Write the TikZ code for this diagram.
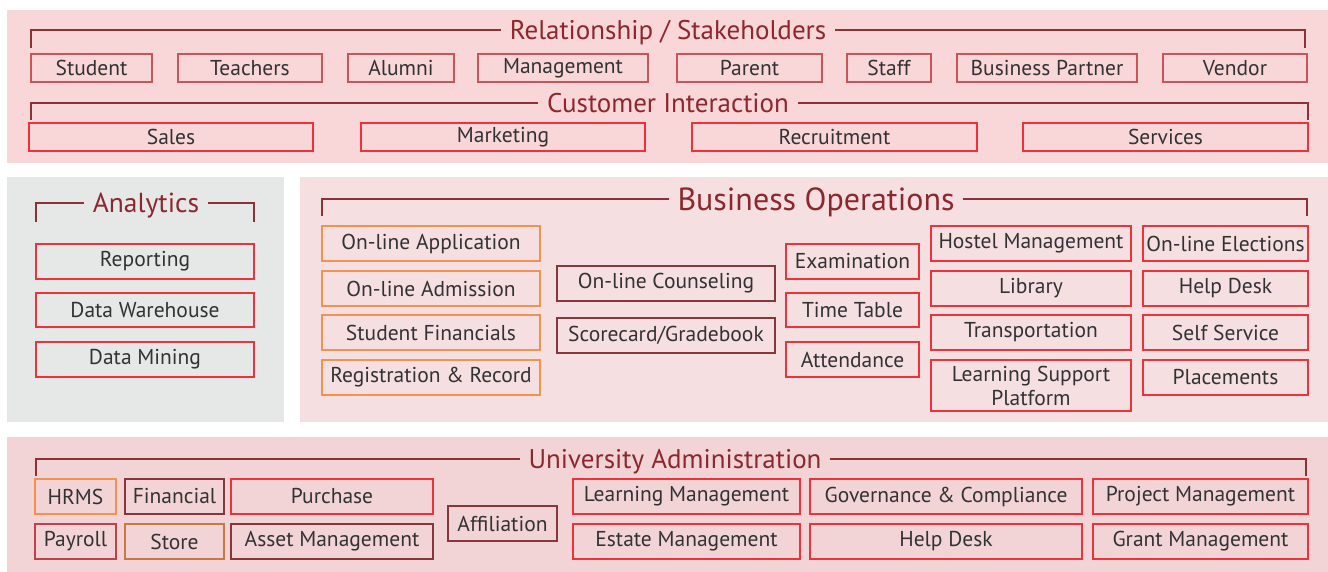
\documentclass[tikz,border=0pt]{standalone}
\usepackage{fontspec}
\setmainfont{PT Sans}
\definecolor{toppink}{RGB}{249,214,215}
\definecolor{bizpink}{RGB}{245,223,225}
\definecolor{anagray}{RGB}{230,231,231}
\definecolor{botpink}{RGB}{243,212,214}
\definecolor{titlered}{RGB}{140,40,45}
\definecolor{bracketred}{RGB}{140,50,55}
\definecolor{txtgray}{RGB}{50,50,52}
\definecolor{boxmuted}{RGB}{200,85,90}
\definecolor{boxred}{RGB}{238,50,60}
\definecolor{boxorange}{RGB}{243,146,80}
\definecolor{boxdark}{RGB}{135,55,60}
\definecolor{boxstore}{RGB}{200,120,70}
\definecolor{boxpay}{RGB}{190,65,75}
\tikzset{
  mbox/.style={draw=boxmuted},
  rbox/.style={draw=boxred},
  obox/.style={draw=boxorange},
  dbox/.style={draw=boxdark},
  sbox/.style={draw=boxstore},
  pbox/.style={draw=boxpay},
  bracket/.style={draw=bracketred, line width=1.3pt},
  title/.style={text=titlered, inner xsep=8pt, text depth=0pt, font=\fontsize{27}{29}\selectfont},
}

\begin{document}
\begin{tikzpicture}[x=1pt, y=-1pt, line width=1.5pt, font=\fontsize{21.5}{24}\selectfont, text=txtgray]
			\useasboundingbox (0,0) rectangle (1328,572);
			% panels
			\fill[toppink] (7,10) rectangle (1328,163);
			\fill[anagray] (7,177) rectangle (284,422);
			\fill[bizpink] (300,177) rectangle (1328,422);
			\fill[botpink] (7,437) rectangle (1328,572);

			% relationship / stakeholders
			\node[title] (rs) at (668,30) {Relationship / Stakeholders};
			\coordinate (rsL) at (31,48);
			\coordinate (rsR) at (1305,48);
			\draw[bracket] (rsL) |- (rs.west);
			\draw[bracket] (rsR) |- (rs.east);
			\draw[mbox] (31,54) rectangle (152,82) node[pos=.5] (student) {Student};
			\draw[mbox] (178,54) rectangle (322,82) node[pos=.5] (teachers) {Teachers};
			\draw[mbox] (348,54) rectangle (454,82) node[pos=.5] (alumni) {Alumni};
			\draw[mbox] (478,54) rectangle (648,82) node[pos=.5] (mgmt) {Management};
			\draw[mbox] (677,54) rectangle (822,82) node[pos=.5] (parent) {Parent};
			\draw[mbox] (847,54) rectangle (931,82) node[pos=.5] (staff) {Staff};
			\draw[mbox] (957,54) rectangle (1137,82) node[pos=.5] (partner) {Business Partner};
			\draw[mbox] (1163,54) rectangle (1307,82) node[pos=.5] (vendor) {Vendor};

			% customer interaction
			\node[title] (ci) at (668,103) {Customer Interaction};
			\coordinate (ciL) at (31,120);
			\coordinate (ciR) at (1308,120);
			\draw[bracket] (ciL) |- (ci.west);
			\draw[bracket] (ciR) |- (ci.east);
			\draw[rbox] (29,123) rectangle (313,151) node[pos=.5] (sales) {Sales};
			\draw[rbox] (361,123) rectangle (645,151) node[pos=.5] (marketing) {Marketing};
			\draw[rbox] (692,123) rectangle (977,151) node[pos=.5] (recruit) {Recruitment};
			\draw[rbox] (1023,123) rectangle (1308,151) node[pos=.5] (services) {Services};

			% analytics
			\node[title, font=\fontsize{27.5}{29}\selectfont] (an) at (146,203) {Analytics};
			\coordinate (anL) at (36,222);
			\coordinate (anR) at (254,222);
			\draw[bracket] (anL) |- (an.west);
			\draw[bracket] (anR) |- (an.east);
			\draw[rbox] (36,244) rectangle (254,279) node[pos=.5] (report) {Reporting};
			\draw[rbox] (36,293) rectangle (254,327) node[pos=.5] (dwh) {Data Warehouse};
			\draw[rbox] (36,342) rectangle (254,377) node[pos=.5] (dmine) {Data Mining};

			% business operations
			\node[title, font=\fontsize{32}{34}\selectfont] (bo) at (816,199) {Business Operations};
			\coordinate (boL) at (322,216);
			\coordinate (boR) at (1307,216);
			\draw[bracket] (boL) |- (bo.west);
			\draw[bracket] (boR) |- (bo.east);
			\draw[obox] (322,226) rectangle (540,261) node[pos=.5] (olapp) {On-line Application};
			\draw[obox] (322,271) rectangle (540,306) node[pos=.5] (oladm) {On-line Admission};
			\draw[obox] (322,315) rectangle (540,350) node[pos=.5] (stfin) {Student Financials};
			\draw[obox] (322,360) rectangle (540,395) node[pos=.5] (regrec) {Registration \& Record};
			\draw[dbox] (557,266) rectangle (775,301) node[pos=.5] (olcoun) {On-line Counseling};
			\draw[dbox] (557,318) rectangle (775,353) node[pos=.5] (score) {Scorecard/Gradebook};
			\draw[rbox] (786,244) rectangle (919,279) node[pos=.5] (exam) {Examination};
			\draw[rbox] (786,293) rectangle (919,327) node[pos=.5] (ttable) {Time Table};
			\draw[rbox] (786,342) rectangle (919,377) node[pos=.5] (attend) {Attendance};
			\draw[rbox] (931,226) rectangle (1131,261) node[pos=.5] (hostel) {Hostel Management};
			\draw[rbox] (931,271) rectangle (1131,306) node[pos=.5] (library) {Library};
			\draw[rbox] (931,315) rectangle (1131,350) node[pos=.5] (transport) {Transportation};
			\draw[rbox] (931,360) rectangle (1131,411) node[pos=.5, align=center] (lsp) {Learning Support\\Platform};
			\draw[rbox] (1143,226) rectangle (1308,261) node[pos=.5] (olelect) {On-line Elections};
			\draw[rbox] (1143,271) rectangle (1308,306) node[pos=.5] (hdesk) {Help Desk};
			\draw[rbox] (1143,315) rectangle (1308,350) node[pos=.5] (selfserv) {Self Service};
			\draw[rbox] (1143,360) rectangle (1308,395) node[pos=.5] (place) {Placements};

			% university administration
			\node[title] (ua) at (675,459) {University Administration};
			\coordinate (uaL) at (36,476);
			\coordinate (uaR) at (1306,476);
			\draw[bracket] (uaL) |- (ua.west);
			\draw[bracket] (uaR) |- (ua.east);
			\draw[obox] (35,479) rectangle (116,514) node[pos=.5] (hrms) {HRMS};
			\draw[dbox] (125,479) rectangle (224,514) node[pos=.5] (financial) {Financial};
			\draw[rbox] (231,479) rectangle (433,514) node[pos=.5] (purchase) {Purchase};
			\draw[pbox] (35,524) rectangle (116,559) node[pos=.5] (payroll) {Payroll};
			\draw[sbox] (125,524) rectangle (224,559) node[pos=.5] (store) {Store};
			\draw[dbox] (231,524) rectangle (433,559) node[pos=.5] (asset) {Asset Management};
			\draw[dbox] (448,506) rectangle (557,541) node[pos=.5] (affil) {Affiliation};
			\draw[rbox] (573,479) rectangle (800,514) node[pos=.5] (lms) {Learning Management};
			\draw[rbox] (810,479) rectangle (1082,514) node[pos=.5] (gov) {Governance \& Compliance};
			\draw[rbox] (1093,479) rectangle (1308,514) node[pos=.5] (proj) {Project Management};
			\draw[rbox] (573,524) rectangle (800,559) node[pos=.5] (estate) {Estate Management};
			\draw[rbox] (810,524) rectangle (1082,559) node[pos=.5] (uhdesk) {Help Desk};
			\draw[rbox] (1093,524) rectangle (1308,559) node[pos=.5] (grant) {Grant Management};
			\end{tikzpicture}
\end{document}
